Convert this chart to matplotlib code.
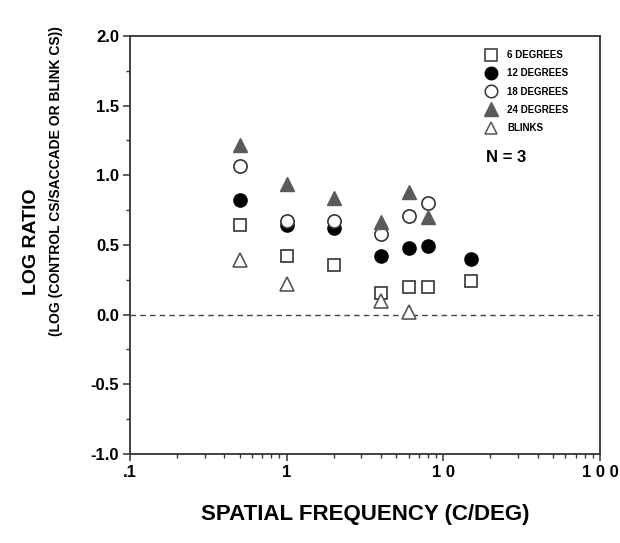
import matplotlib
matplotlib.use("Agg")
import matplotlib.pyplot as plt
from matplotlib.lines import Line2D
from matplotlib.ticker import FixedLocator, LogLocator, NullFormatter, MultipleLocator

plt.rcParams['font.family'] = ['Liberation Sans', 'DejaVu Sans']
plt.rcParams['font.weight'] = 'bold'

# Data
freq_6 = [0.5, 1, 2, 4, 6, 8, 15]
val_6 = [0.64, 0.42, 0.36, 0.155, 0.20, 0.20, 0.24]

freq_12 = [0.5, 1, 2, 4, 6, 8, 15]
val_12 = [0.82, 0.645, 0.62, 0.42, 0.48, 0.49, 0.40]

freq_18 = [0.5, 1, 2, 4, 6, 8]
val_18 = [1.07, 0.675, 0.675, 0.58, 0.71, 0.80]

freq_24 = [0.5, 1, 2, 4, 6, 8]
val_24 = [1.22, 0.935, 0.84, 0.665, 0.88, 0.70]

freq_blink = [0.5, 1, 4, 6]
val_blink = [0.39, 0.22, 0.10, 0.02]

series_labels = ["6 DEGREES", "12 DEGREES", "18 DEGREES", "24 DEGREES", "BLINKS"]
x_ticks = [0.1, 1, 10, 100]
x_ticklabels = [".1", "1", "1 0", "1 0 0"]
y_ticks = [-1.0, -0.5, 0.0, 0.5, 1.0, 1.5, 2.0]

fig = plt.figure(figsize=(6.2, 5.43), dpi=100)
ax = fig.add_axes([130/620, 1-454/543, 470/620, 418/543])

ec = '#333333'
gray = '#5a5a5a'
ms = 9.5

ax.plot(freq_6, val_6, linestyle='none', marker='s', ms=ms-0.5, mfc='white', mec=ec, mew=1.2, zorder=3)
ax.plot(freq_12, val_12, linestyle='none', marker='o', ms=ms, mfc='black', mec='black', mew=1.0, zorder=4)
ax.plot(freq_18, val_18, linestyle='none', marker='o', ms=ms, mfc='white', mec=ec, mew=1.2, zorder=5)
ax.plot(freq_24, val_24, linestyle='none', marker='^', ms=ms+0.5, mfc=gray, mec=gray, mew=1.0, zorder=6)
ax.plot(freq_blink, val_blink, linestyle='none', marker='^', ms=ms, mfc='white', mec='#555555', mew=1.2, zorder=3)

ax.axhline(0.0, color='#444444', lw=1.0, ls=(0, (4, 3)), zorder=1)

ax.set_xscale('log')
ax.set_xlim(0.1, 100)
ax.set_ylim(-1.0, 2.0)
ax.xaxis.set_major_locator(FixedLocator(x_ticks))
ax.set_xticklabels(x_ticklabels, fontsize=12, fontweight='bold')
ax.xaxis.set_minor_locator(LogLocator(base=10, subs=range(2, 10)))
ax.xaxis.set_minor_formatter(NullFormatter())
ax.set_yticks(y_ticks)
ax.set_yticklabels([f"{v:.1f}" for v in y_ticks], fontsize=12, fontweight='bold')
ax.yaxis.set_minor_locator(MultipleLocator(0.25))

for s in ax.spines.values():
    s.set_linewidth(1.3)
    s.set_color('#333333')
ax.tick_params(which='major', direction='out', length=5, width=1.1, color='#333333', pad=3)
ax.tick_params(which='minor', direction='out', length=3, width=1.0, color='#333333')
ax.tick_params(axis='x', which='major', pad=3)

ax.set_xlabel("SPATIAL FREQUENCY (C/DEG)", fontsize=16, fontweight='bold', labelpad=17)
fig.text(32/620, 1-242/543, "LOG RATIO", rotation=90, fontsize=14, fontweight='bold',
         ha='center', va='center')
fig.text(56/620, 1-181/543, "(LOG (CONTROL CS/SACCADE OR BLINK CS))", rotation=90, fontsize=10,
         fontweight='bold', ha='center', va='center')

handles = [
    Line2D([], [], ls='none', marker='s', ms=8.5, mfc='white', mec=ec, mew=1.1),
    Line2D([], [], ls='none', marker='o', ms=9, mfc='black', mec='black'),
    Line2D([], [], ls='none', marker='o', ms=9, mfc='white', mec=ec, mew=1.1),
    Line2D([], [], ls='none', marker='^', ms=9.5, mfc=gray, mec=gray),
    Line2D([], [], ls='none', marker='^', ms=9, mfc='white', mec='#555555', mew=1.1),
]
leg = ax.legend(handles, series_labels, loc='upper left', bbox_to_anchor=(486/620, 1-50/543),
                bbox_transform=fig.transFigure, frameon=False, prop={'size': 7, 'weight': 'bold'},
                handlelength=1.0, handletextpad=1.2, labelspacing=0.85, borderpad=0, borderaxespad=0)

fig.text(486/620, 1-158/543, "N = 3", fontsize=12, fontweight='bold', ha='left', va='center')

fig.savefig("out.png", dpi=100)
